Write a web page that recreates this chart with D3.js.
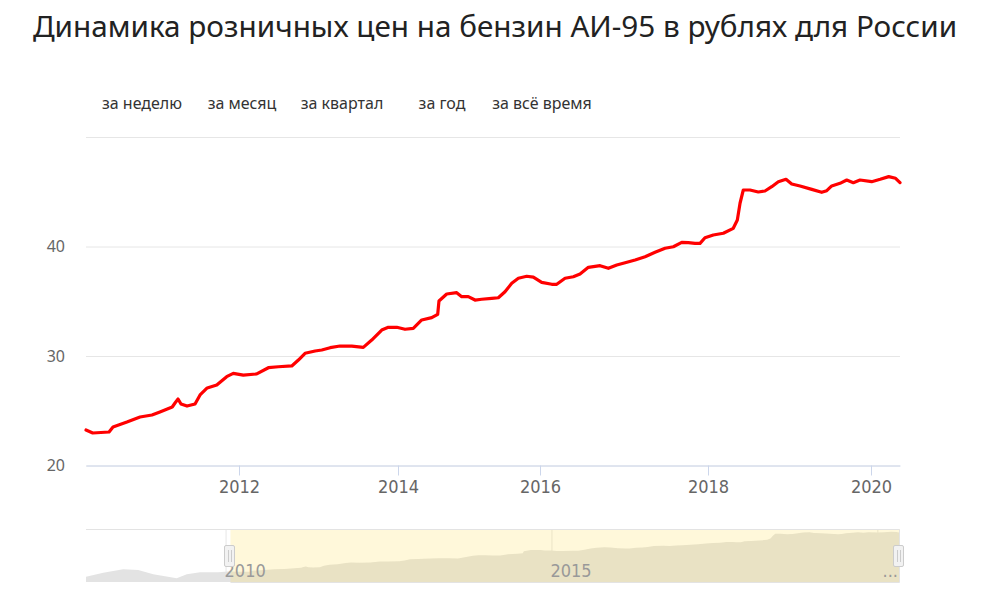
<!DOCTYPE html>
<html>
<head>
<meta charset="utf-8">
<script src="https://cdn.jsdelivr.net/npm/d3@7"></script>
<style>
  body { margin: 0; background: #fff; }
  svg { display: block; }
</style>
</head>
<body>
<div id="chart"></div>
<script>
const title = "Динамика розничных цен на бензин АИ-95 в рублях для России";
const rangeButtons = ["за неделю", "за месяц", "за квартал", "за год", "за всё время"];

// dates as decimal years, price in rubles
const years = [
  2007.86, 2008.125, 2008.43, 2008.66, 2008.89, 2009.25, 2009.405, 2009.61, 2009.89,
  2010.075, 2010.16, 2010.365, 2010.415, 2010.59, 2010.755, 2010.905, 2011.005, 2011.16, 2011.195,
  2011.233, 2011.27, 2011.346, 2011.447, 2011.51, 2011.6, 2011.72, 2011.845, 2011.928, 2012.054,
  2012.223, 2012.369, 2012.494, 2012.663, 2012.746, 2012.83, 2012.956, 2013.04, 2013.145, 2013.27,
  2013.418, 2013.563, 2013.669, 2013.795, 2013.878, 2013.984, 2014.099, 2014.215, 2014.334, 2014.475,
  2014.559, 2014.577, 2014.686, 2014.827, 2014.897, 2014.99, 2015.085, 2015.179, 2015.32, 2015.413,
  2015.507, 2015.602, 2015.695, 2015.813, 2015.906, 2016.02, 2016.14, 2016.199, 2016.298, 2016.396,
  2016.476, 2016.575, 2016.714, 2016.813, 2016.913, 2017.012, 2017.131, 2017.25, 2017.369, 2017.488,
  2017.587, 2017.687, 2017.765, 2017.845, 2017.905, 2017.964, 2018.065, 2018.188, 2018.31, 2018.36,
  2018.393, 2018.433, 2018.515, 2018.617, 2018.699, 2018.782, 2018.863, 2018.957, 2019.027, 2019.129,
  2019.273, 2019.395, 2019.457, 2019.518, 2019.62, 2019.702, 2019.783, 2019.865, 2020.008, 2020.11,
  2020.212, 2020.294, 2020.347
];
const prices = [
  20.1, 22.4, 24.4, 24.0, 21.5, 19.2, 21.5, 22.7, 22.7,
  23.24, 22.97, 23.06, 23.52, 23.97, 24.43, 24.61, 24.89, 25.34, 25.71,
  26.07, 25.62, 25.43, 25.62, 26.44, 27.08, 27.35, 28.11, 28.42, 28.26,
  28.36, 28.93, 29.02, 29.09, 29.63, 30.25, 30.46, 30.55, 30.76, 30.91,
  30.91, 30.79, 31.46, 32.37, 32.62, 32.62, 32.44, 32.53, 33.29, 33.5,
  33.81, 35.02, 35.66, 35.78, 35.42, 35.42, 35.11, 35.18, 35.27, 35.32,
  35.87, 36.64, 37.1, 37.28, 37.21, 36.73, 36.55, 36.55, 37.1, 37.24,
  37.49, 38.1, 38.25, 38.01, 38.31, 38.52, 38.77, 39.07, 39.47, 39.84,
  39.98, 40.38, 40.35, 40.29, 40.29, 40.8, 41.05, 41.21, 41.66, 42.42,
  43.95, 45.16, 45.16, 44.98, 45.07, 45.46, 45.92, 46.14, 45.71, 45.53,
  45.22, 44.95, 45.1, 45.53, 45.77, 46.07, 45.83, 46.07, 45.92, 46.14,
  46.38, 46.23, 45.83
];
const zoomStart = 2010.075;          // left edge of the selected range
const xTicks = [2012, 2014, 2016, 2018, 2020];
const yTicks = [20, 30, 40, 50];
const navTicks = [2010, 2015, 2020];

const width = 983, height = 595;
const plot = {left: 86, right: 900, top: 137, bottom: 465.5};
const nav = {top: 529, bottom: 582};

const toDate = y => {
  const yr = Math.floor(y), a = new Date(yr, 0, 1), b = new Date(yr + 1, 0, 1);
  return new Date(+a + (y - yr) * (b - a));
};

const data = years.map((y, i) => ({date: toDate(y), value: prices[i]}));
const shown = data.filter(d => d.date >= toDate(zoomStart));
const lastYear = years[years.length - 1];

const svg = d3.select("#chart").append("svg")
  .attr("width", width)
  .attr("height", height);

const axisFont = "'Liberation Sans Narrow', 'DejaVu Sans Condensed', sans-serif";

// title
svg.append("text")
  .attr("x", 495).attr("y", 37)
  .attr("text-anchor", "middle")
  .style("font-family", "'Noto Sans', sans-serif")
  .style("font-size", "29.7px")
  .style("fill", "#222")
  .text(title);

// range selector buttons
svg.append("g")
  .selectAll("text")
  .data(rangeButtons)
  .join("text")
    .attr("x", (d, i) => 142 + i * 100)
    .attr("y", 109)
    .attr("text-anchor", "middle")
    .style("font-family", "'Noto Sans', sans-serif")
    .style("font-size", "16px")
    .style("fill", "#333")
    .text(d => d);

// x scale: the source axis is ordinal, so the year spacing is uneven
const x = d3.scaleTime()
  .domain([zoomStart, 2012, 2014, 2016, 2018, 2020, lastYear].map(toDate))
  .range([plot.left, 239, 398, 540, 708, 871, plot.right]);

const y = d3.scaleLinear()
  .domain([20, 50])
  .range([plot.bottom, plot.top]);

// Y axis + grid
const yAxis = svg.append("g")
  .attr("transform", `translate(${plot.left}, 0)`)
  .call(d3.axisLeft(y)
    .tickValues(yTicks)
    .tickSize(-(plot.right - plot.left))
    .tickPadding(21)
    .tickFormat(d => d === 50 ? "" : d));
yAxis.select(".domain").remove();
yAxis.selectAll(".tick line").attr("stroke", "#e6e6e6");
yAxis.selectAll(".tick text")
  .style("font-family", "'Noto Sans', sans-serif")
  .style("font-size", "16px")
  .style("fill", "#666");

// X axis
const xAxis = svg.append("g")
  .attr("transform", `translate(0, ${plot.bottom})`)
  .call(d3.axisBottom(x)
    .tickValues(xTicks.map(toDate))
    .tickSize(10)
    .tickSizeOuter(0)
    .tickPadding(5)
    .tickFormat(d3.timeFormat("%Y")));
xAxis.select(".domain").attr("stroke", "#ccd6eb");
xAxis.selectAll(".tick line").attr("stroke", "#ccd6eb");
xAxis.selectAll(".tick text")
  .style("font-family", axisFont)
  .style("font-size", "18px")
  .style("fill", "#666");

// price line
const line = d3.line()
  .x(d => x(d.date))
  .y(d => y(d.value));

svg.append("path")
  .datum(shown)
  .attr("fill", "none")
  .attr("stroke", "#ff0000")
  .attr("stroke-width", 3.2)
  .attr("stroke-linejoin", "round")
  .attr("stroke-linecap", "round")
  .attr("d", line);

// navigator
const nx = d3.scaleTime()
  .domain([toDate(years[0]), toDate(lastYear)])
  .range([plot.left, plot.right]);
const ny = d3.scaleLinear()
  .domain([17, 48])
  .range([nav.bottom, nav.top]);

const navG = svg.append("g");

navG.selectAll("line.grid")
  .data(navTicks)
  .join("line")
    .attr("class", "grid")
    .attr("x1", d => nx(toDate(d)) + 0.5)
    .attr("x2", d => nx(toDate(d)) + 0.5)
    .attr("y1", nav.top)
    .attr("y2", nav.bottom)
    .attr("stroke", "#e6e6e6");

navG.append("path")
  .datum(data)
  .attr("fill", "#e3e3e3")
  .attr("d", d3.area()
    .x(d => nx(d.date))
    .y0(nav.bottom)
    .y1(d => ny(d.value)));

const selLeft = nx(toDate(zoomStart)), selRight = nx(toDate(lastYear));

navG.append("rect")
  .attr("x", selLeft)
  .attr("y", nav.top)
  .attr("width", selRight - selLeft)
  .attr("height", nav.bottom - nav.top)
  .attr("fill", "rgba(255, 221, 85, 0.22)");

navG.append("path")
  .attr("fill", "none")
  .attr("stroke", "#e3e3e3")
  .attr("d", `M${plot.left},${nav.top + 0.5}H${selRight - 0.5}V${nav.bottom + 0.5}H${selLeft}`);

// navigator labels, last one is cut to "..." if it does not fit
navG.selectAll("text")
  .data(navTicks)
  .join("text")
    .attr("x", d => nx(toDate(d)) - 1)
    .attr("y", 577)
    .style("font-family", axisFont)
    .style("font-size", "18px")
    .style("fill", "#999")
    .text(d => d)
    .each(function(d) {
      const t = d3.select(this);
      if (nx(toDate(d)) + this.getComputedTextLength() > plot.right) {
        t.text("...").attr("text-anchor", "end").attr("x", plot.right - 2);
      }
    });

// handles
const handles = navG.selectAll("g.handle")
  .data([selLeft, selRight - 1])
  .join("g")
    .attr("class", "handle")
    .attr("transform", d => `translate(${Math.round(d)}, 545)`);
handles.append("rect")
  .attr("x", -5.5).attr("y", 0.5)
  .attr("width", 10).attr("height", 21)
  .attr("rx", 1.5)
  .attr("fill", "#f2f2f2")
  .attr("stroke", "#cccccc");
handles.append("path")
  .attr("stroke", "#cccccc")
  .attr("d", "M-1.5,5V17M1.5,5V17");
</script>
</body>
</html>
